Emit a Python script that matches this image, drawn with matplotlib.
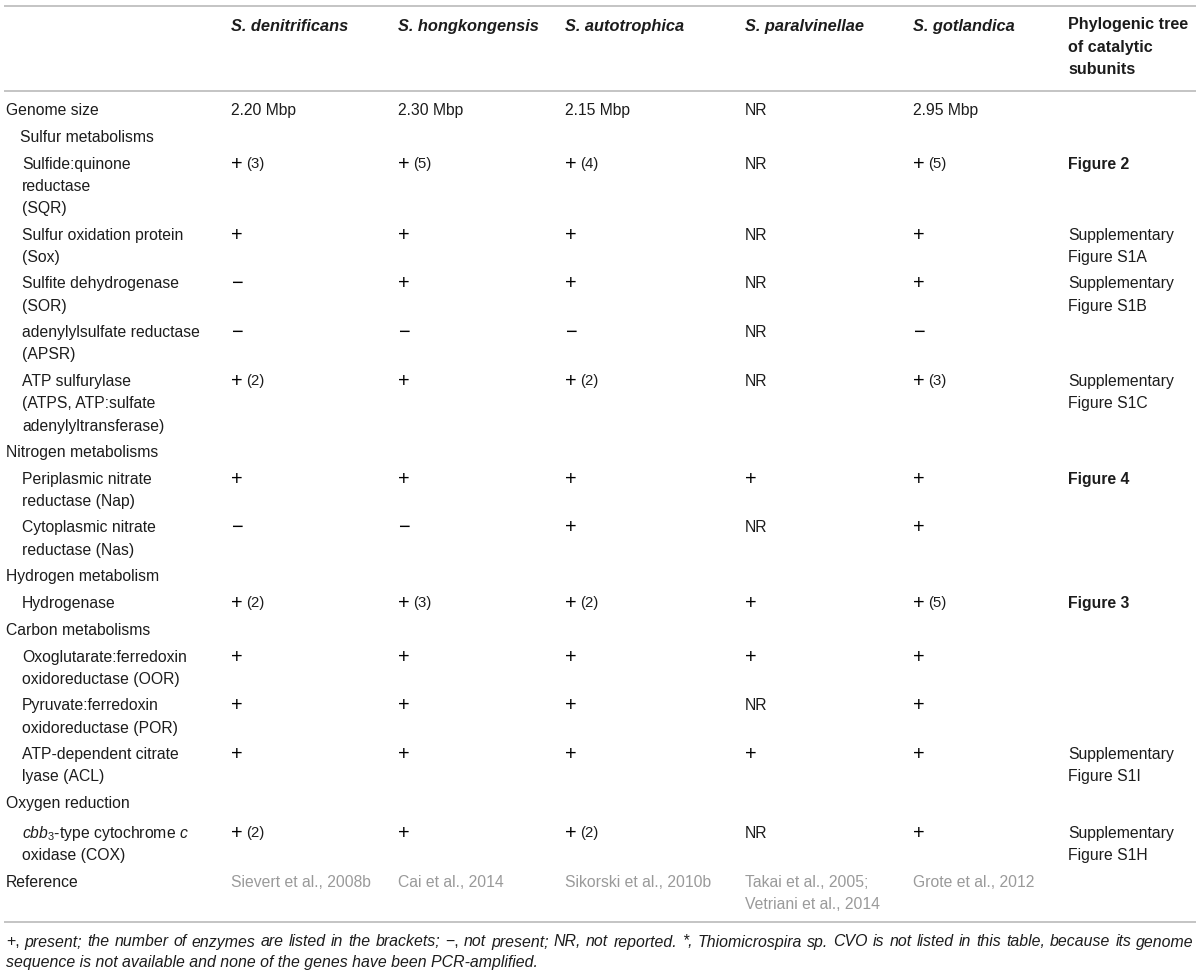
import matplotlib
matplotlib.use('Agg')
import matplotlib.pyplot as plt

plt.rcParams['font.family'] = 'Liberation Sans'
plt.rcParams['mathtext.fontset'] = 'custom'
plt.rcParams['mathtext.rm'] = 'Liberation Sans'
plt.rcParams['mathtext.it'] = 'Liberation Sans:italic'
plt.rcParams['mathtext.bf'] = 'Liberation Sans:bold'

# ============================================================================
# Datos de la tabla
# ============================================================================
species = ['S. denitrificans', 'S. hongkongensis', 'S. autotrophica',
           'S. paralvinellae', 'S. gotlandica']
tree_header = 'Phylogenic tree\nof catalytic\nsubunits'

row_labels = [
    'Genome size',
    'Sulfur metabolisms',
    'Sulfide:quinone\nreductase\n(SQR)',
    'Sulfur oxidation protein\n(Sox)',
    'Sulfite dehydrogenase\n(SOR)',
    'adenylylsulfate reductase\n(APSR)',
    'ATP sulfurylase\n(ATPS, ATP:sulfate\nadenylyltransferase)',
    'Nitrogen metabolisms',
    'Periplasmic nitrate\nreductase (Nap)',
    'Cytoplasmic nitrate\nreductase (Nas)',
    'Hydrogen metabolism',
    'Hydrogenase',
    'Carbon metabolisms',
    'Oxoglutarate:ferredoxin\noxidoreductase (OOR)',
    'Pyruvate:ferredoxin\noxidoreductase (POR)',
    'ATP-dependent citrate\nlyase (ACL)',
    'Oxygen reduction',
    '$\\mathit{cbb}_3$-type cytochrome $\\mathit{c}$\noxidase (COX)',
]
# nivel de sangría: 0 = grupo, 1 = subgrupo (sulfur), 2 = enzima
row_level = [0, 1, 2, 2, 2, 2, 2, 0, 2, 2, 0, 2, 0, 2, 2, 2, 0, 2]

denitrificans = ['2.20 Mbp', '', '+ (3)', '+', '−', '−', '+ (2)', '', '+', '−',
                 '', '+ (2)', '', '+', '+', '+', '', '+ (2)']
hongkongensis = ['2.30 Mbp', '', '+ (5)', '+', '+', '−', '+', '', '+', '−',
                 '', '+ (3)', '', '+', '+', '+', '', '+']
autotrophica = ['2.15 Mbp', '', '+ (4)', '+', '+', '−', '+ (2)', '', '+', '+',
                '', '+ (2)', '', '+', '+', '+', '', '+ (2)']
paralvinellae = ['NR', '', 'NR', 'NR', 'NR', 'NR', 'NR', '', '+', 'NR',
                 '', '+', '', '+', 'NR', '+', '', 'NR']
gotlandica = ['2.95 Mbp', '', '+ (5)', '+', '+', '−', '+ (3)', '', '+', '+',
              '', '+ (5)', '', '+', '+', '+', '', '+']
tree_refs = ['', '', 'Figure 2', 'Supplementary\nFigure S1A',
             'Supplementary\nFigure S1B', '', 'Supplementary\nFigure S1C', '',
             'Figure 4', '', '', 'Figure 3', '', '', '',
             'Supplementary\nFigure S1I', '', 'Supplementary\nFigure S1H']

references = ['Sievert et al., 2008b', 'Cai et al., 2014', 'Sikorski et al., 2010b',
              'Takai et al., 2005;\nVetriani et al., 2014', 'Grote et al., 2012']

footnote_1 = ('+, present; the number of enzymes are listed in the brackets; −, '
              'not present; NR, not reported. *, Thiomicrospira sp. CVO is not '
              'listed in this table, because its genome')
footnote_2 = 'sequence is not available and none of the genes have been PCR-amplified.'

# ============================================================================
# Dibujo
# ============================================================================
FS = 11.3
FS_NOTE = 11.4
BLACK = '#1c1c1c'
GRAY = '#9a9a9a'
LINE = '#c4c4c4'
LINE_H = 22.3

fig = plt.figure(figsize=(12, 9.74), dpi=100)
ax = fig.add_axes([0, 0, 1, 1])
ax.set_xlim(0, 1200)
ax.set_ylim(974, 0)
ax.axis('off')

col_x = [231, 398, 565, 745, 913, 1068]
label_x = {0: 6, 1: 20, 2: 22}


def draw_lines(x, y, text, **kw):
    for i, line in enumerate(text.split('\n')):
        ax.text(x, y + i * LINE_H, line, va='center', ha='left', **kw)


def draw_cell(x, y, val):
    if val[:1] in ('+', '−'):
        ax.text(x, y, val[0], va='center', ha='left', fontsize=FS + 3,
                color='black')
        rest = val[1:].strip()
        if rest:
            ax.text(x + 15, y, rest, va='center', ha='left', fontsize=FS - 0.6,
                    color=BLACK)
    elif val:
        draw_lines(x, y, val, fontsize=FS, color=BLACK)


# líneas horizontales
for yl in (6, 91, 921.5):
    ax.plot([4, 1196], [yl, yl], color=LINE, lw=1.4, solid_capstyle='butt')

# cabecera
for x, sp in zip(col_x, species):
    ax.text(x, 26.5, sp, va='center', ha='left', fontsize=FS + 0.5,
            fontweight='bold', fontstyle='italic', color=BLACK)
draw_lines(col_x[5], 25, tree_header, fontsize=FS + 0.3, fontweight='bold',
           color=BLACK)

# filas
columns = [denitrificans, hongkongensis, autotrophica, paralvinellae, gotlandica]
y = 110.7
for i, label in enumerate(row_labels):
    n = label.count('\n') + 1
    if label.startswith('$'):
        y += 3
    draw_lines(label_x[row_level[i]], y, label, fontsize=FS, color=BLACK)
    for x, col in zip(col_x, columns):
        draw_cell(x, y, col[i])
    ref = tree_refs[i]
    if ref:
        bold = ref.startswith('Figure')
        draw_lines(col_x[5], y, ref, fontsize=FS,
                   fontweight='bold' if bold else 'normal', color=BLACK)
    y += 26.8 + (n - 1) * 22.0

# fila de referencias
draw_lines(label_x[0], y, 'Reference', fontsize=FS, color=BLACK)
for x, ref in zip(col_x, references):
    draw_lines(x, y, ref, fontsize=FS, color=GRAY)

# nota al pie (justificada la primera línea)
renderer = fig.canvas.get_renderer()
x0, x1 = 6, 1194
words = footnote_1.split(' ')
objs = []
for w in words:
    style = 'normal' if w in ('+,', '−,') else 'italic'
    t = ax.text(0, 942, w, va='center', ha='left', fontsize=FS_NOTE,
                fontstyle=style, color=BLACK)
    objs.append(t)
widths = [t.get_window_extent(renderer).width for t in objs]
gap = max((x1 - x0 - sum(widths)) / (len(words) - 1), 2.0)
xx = x0
for t, w in zip(objs, widths):
    t.set_x(xx)
    xx += w + gap
ax.text(x0, 963, footnote_2, va='center', ha='left', fontsize=FS_NOTE,
        fontstyle='italic', color=BLACK)

plt.savefig('out.png', dpi=100)
plt.close('all')
